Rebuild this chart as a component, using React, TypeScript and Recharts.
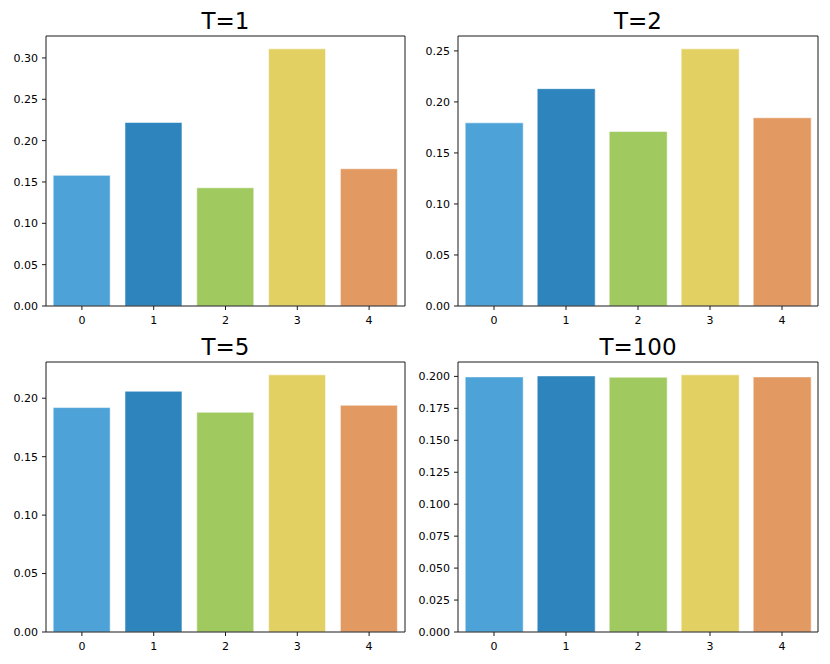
import { BarChart, Bar, Cell, XAxis, YAxis, CartesianGrid } from "recharts";

// categories and bar values
const CATEGORIES = ["0", "1", "2", "3", "4"];
const T1_VALUES = [0.158, 0.222, 0.143, 0.311, 0.166];
const T2_VALUES = [0.1795, 0.213, 0.171, 0.252, 0.1845];
const T5_VALUES = [0.192, 0.206, 0.188, 0.22, 0.194];
const T100_VALUES = [0.1996, 0.2004, 0.1994, 0.2012, 0.1996];

const T1_TICKS = [0, 0.05, 0.1, 0.15, 0.2, 0.25, 0.3];
const T2_TICKS = [0, 0.05, 0.1, 0.15, 0.2, 0.25];
const T5_TICKS = [0, 0.05, 0.1, 0.15, 0.2];
const T100_TICKS = [0, 0.025, 0.05, 0.075, 0.1, 0.125, 0.15, 0.175, 0.2];

const COLORS = ["#4da3d8", "#2e84bc", "#a0ca5f", "#e2d062", "#e29a62"];

const FONT = "'DejaVu Sans', sans-serif";
const SPINE = "#1a1a1a";
const tickStyle = { fontSize: 11, fill: "#000", fontFamily: FONT };

interface PanelProps {
  title: string;
  values: number[];
  ticks: number[];
  digits: number;
  left: number;
  top: number;
  width: number;
}

function Panel({ title, values, ticks, digits, left, top, width }: PanelProps) {
  const data = CATEGORIES.map((k, i) => ({ k, v: values[i] }));
  const height = 330;
  const yWidth = 46;
  const marginRight = 10;
  const plotCenter = yWidth + (width - yWidth - marginRight) / 2;

  return (
    <div style={{ position: "absolute", left, top, width, height }}>
      <div
        style={{
          position: "absolute",
          top: 10,
          left: plotCenter - 100,
          width: 200,
          textAlign: "center",
          fontFamily: FONT,
          fontSize: 23,
          lineHeight: "23px",
          color: "#000",
        }}
      >
        {title}
      </div>
      <BarChart
        width={width}
        height={height}
        data={data}
        margin={{ top: 36, right: marginRight, left: 0, bottom: 0 }}
        barCategoryGap="10%"
      >
        {/* top and right spines of the matplotlib frame */}
        <CartesianGrid
          stroke={SPINE}
          strokeWidth={1}
          horizontalCoordinatesGenerator={({ offset }: any) => [offset.top]}
          verticalCoordinatesGenerator={({ offset }: any) => [offset.left + offset.width]}
        />
        <XAxis
          dataKey="k"
          height={24}
          tick={tickStyle}
          tickSize={4}
          tickMargin={6}
          axisLine={{ stroke: SPINE, strokeWidth: 1 }}
          tickLine={{ stroke: SPINE, strokeWidth: 1 }}
          interval={0}
        />
        <YAxis
          width={yWidth}
          domain={[0, (dataMax: number) => dataMax * 1.05]}
          ticks={ticks}
          interval={0}
          tick={tickStyle}
          tickSize={4}
          tickMargin={4}
          tickFormatter={(v: number) => v.toFixed(digits)}
          axisLine={{ stroke: SPINE, strokeWidth: 1 }}
          tickLine={{ stroke: SPINE, strokeWidth: 1 }}
        />
        <Bar
          dataKey="v"
          isAnimationActive={false}
          stroke="rgba(255,255,255,0.55)"
          strokeWidth={1}
        >
          {data.map((d, i) => (
            <Cell key={d.k} fill={COLORS[i % COLORS.length]} />
          ))}
        </Bar>
      </BarChart>
    </div>
  );
}

export default function App() {
  return (
    <div
      style={{
        position: "absolute",
        left: 0,
        top: 0,
        width: 830,
        height: 664,
        background: "#fff",
      }}
    >
      <Panel title="T=1" values={T1_VALUES} ticks={T1_TICKS} digits={2} left={0} top={0} width={415} />
      <Panel title="T=2" values={T2_VALUES} ticks={T2_TICKS} digits={2} left={412} top={0} width={416} />
      <Panel title="T=5" values={T5_VALUES} ticks={T5_TICKS} digits={2} left={0} top={326} width={415} />
      <Panel title="T=100" values={T100_VALUES} ticks={T100_TICKS} digits={3} left={412} top={326} width={416} />
    </div>
  );
}
